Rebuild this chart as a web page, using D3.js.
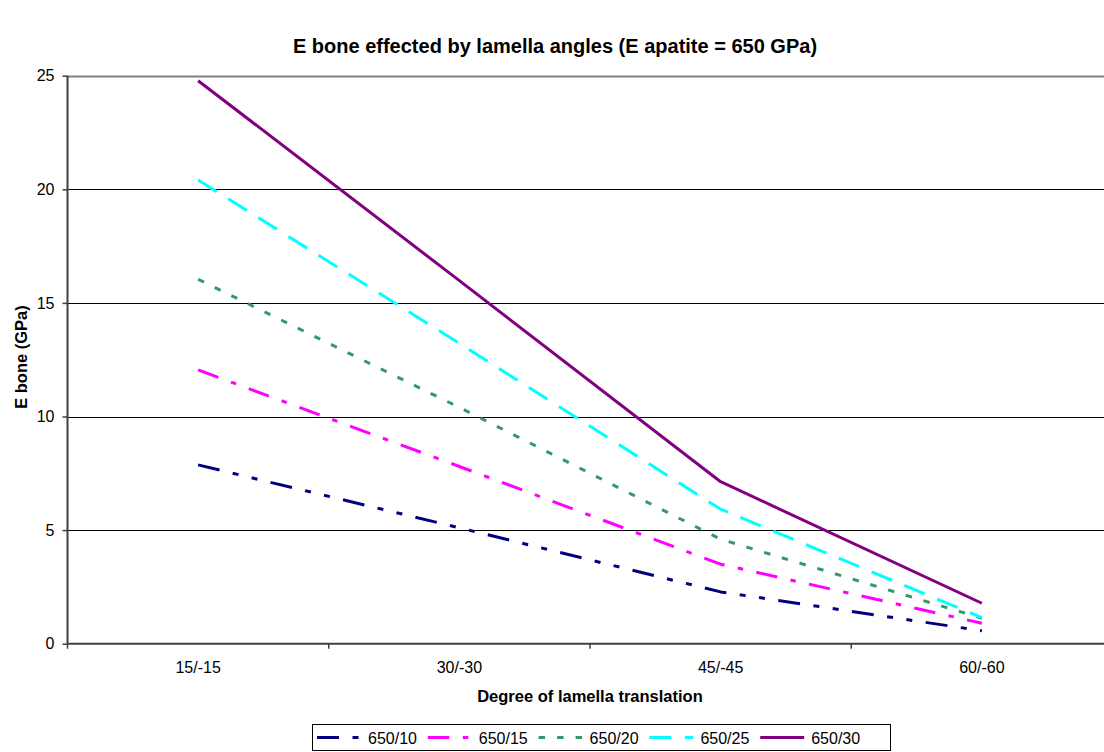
<!DOCTYPE html>
<html>
<head>
<meta charset="utf-8">
<script src="https://cdn.jsdelivr.net/npm/d3@7"></script>
<style>
  html, body { margin: 0; padding: 0; background: #fff; }
  svg { display: block; font-family: "Liberation Sans", Arial, sans-serif; }
</style>
</head>
<body>
<svg id="chart" width="1104" height="752"></svg>
<script>
// Lamella translation categories (x axis)
const categories = ["15/-15", "30/-30", "45/-45", "60/-60"];

// E bone (GPa) for each apatite/collagen combination
const seriesNames = ["650/10", "650/15", "650/20", "650/25", "650/30"];
const s650_10 = [7.87, 5.1, 2.28, 0.57];
const s650_15 = [12.05, 7.8, 3.5, 0.9];
const s650_20 = [16.04, 10.4, 4.6, 1.12];
const s650_25 = [20.41, 13.22, 5.92, 1.15];
const s650_30 = [24.78, 15.98, 7.13, 1.78];

const yTicks = [0, 5, 10, 15, 20, 25];

const title = "E bone effected by lamella angles (E apatite = 650 GPa)";
const xTitle = "Degree of lamella translation";
const yTitle = "E bone (GPa)";

const styles = [
  { color: "#000080", dash: "22,13.5,6,13.5,6,13.5" },
  { color: "#FF00FF", dash: "21.5,13.5,5.5,13.5" },
  { color: "#339966", dash: "6.5,12" },
  { color: "#00FFFF", dash: "22,13.5" },
  { color: "#800080", dash: null }
];

const seriesValues = [s650_10, s650_15, s650_20, s650_25, s650_30];
const series = seriesNames.map((name, i) => ({ name, values: seriesValues[i], ...styles[i] }));

const svg = d3.select("#chart");

const plot = { left: 67.5, right: 1112.5, top: 75.7, bottom: 643.7 };

const x = d3.scaleBand().domain(categories).range([plot.left, plot.right]);
const cx = c => x(c) + x.bandwidth() / 2;
const y = d3.scaleLinear().domain([0, 25]).range([plot.bottom, plot.top]);

// Horizontal gridlines
svg.append("g").selectAll("line").data(yTicks.filter(t => t > 0)).join("line")
  .attr("x1", plot.left).attr("x2", plot.right)
  .attr("y1", d => Math.round(y(d)) + 0.5).attr("y2", d => Math.round(y(d)) + 0.5)
  .attr("stroke", d => d === 25 ? "#808080" : "#000")
  .attr("stroke-width", d => d === 25 ? 2 : 1);

// Y axis
const yAxis = svg.append("g").attr("transform", `translate(${plot.left},0)`)
  .call(d3.axisLeft(y).tickValues(yTicks).tickSize(5).tickPadding(8).tickFormat(d3.format("d")));
yAxis.select(".domain").attr("stroke", "#404040").attr("stroke-width", 2)
  .attr("d", `M0,${plot.top}V${plot.bottom}`);
yAxis.selectAll(".tick line").attr("stroke", "#404040").attr("stroke-width", 1.5);
yAxis.selectAll(".tick text").attr("font-size", 16).attr("fill", "#000")
  .attr("font-family", "Liberation Sans, Arial, sans-serif");

// X axis: ticks sit between categories
const xAxisG = svg.append("g");
xAxisG.append("line")
  .attr("x1", plot.left).attr("x2", plot.right)
  .attr("y1", plot.bottom).attr("y2", plot.bottom)
  .attr("stroke", "#404040").attr("stroke-width", 2);
const boundaries = categories.map(c => x(c)).concat([plot.right]);
xAxisG.selectAll("line.tick").data(boundaries).join("line").attr("class", "tick")
  .attr("x1", d => d).attr("x2", d => d)
  .attr("y1", plot.bottom).attr("y2", plot.bottom + 5)
  .attr("stroke", "#404040").attr("stroke-width", 1.5);
xAxisG.selectAll("text").data(categories).join("text")
  .attr("x", d => cx(d)).attr("y", 673)
  .attr("text-anchor", "middle").attr("font-size", 16).attr("fill", "#000")
  .text(d => d);

// Series lines
const line = d3.line().x((d, i) => cx(categories[i])).y(d => y(d));
svg.append("g").selectAll("path").data(series).join("path")
  .attr("d", d => line(d.values))
  .attr("fill", "none")
  .attr("stroke", d => d.color)
  .attr("stroke-width", 3)
  .attr("stroke-linecap", "butt")
  .attr("stroke-linejoin", "round")
  .attr("stroke-dasharray", d => d.dash);

// Titles
svg.append("text").attr("x", 555).attr("y", 53)
  .attr("text-anchor", "middle").attr("font-size", 20).attr("font-weight", "bold")
  .text(title);
svg.append("text").attr("x", 590).attr("y", 702)
  .attr("text-anchor", "middle").attr("font-size", 16.5).attr("font-weight", "bold")
  .text(xTitle);
svg.append("text").attr("transform", "translate(27,357) rotate(-90)")
  .attr("text-anchor", "middle").attr("font-size", 16.5).attr("font-weight", "bold")
  .text(yTitle);

// Legend
const legend = svg.append("g");
legend.append("rect").attr("x", 312.5).attr("y", 724.5).attr("width", 578).attr("height", 26)
  .attr("fill", "#fff").attr("stroke", "#000").attr("stroke-width", 1);
const item = legend.selectAll("g.item").data(series).join("g").attr("class", "item")
  .attr("transform", (d, i) => `translate(${317 + i * 110.8},0)`);
item.append("line").attr("x1", 0).attr("x2", 44).attr("y1", 737.5).attr("y2", 737.5)
  .attr("stroke", d => d.color).attr("stroke-width", 3)
  .attr("stroke-dasharray", d => d.dash);
item.append("text").attr("x", 51).attr("y", 744).attr("font-size", 16).attr("fill", "#000")
  .text(d => d.name);
</script>
</body>
</html>
